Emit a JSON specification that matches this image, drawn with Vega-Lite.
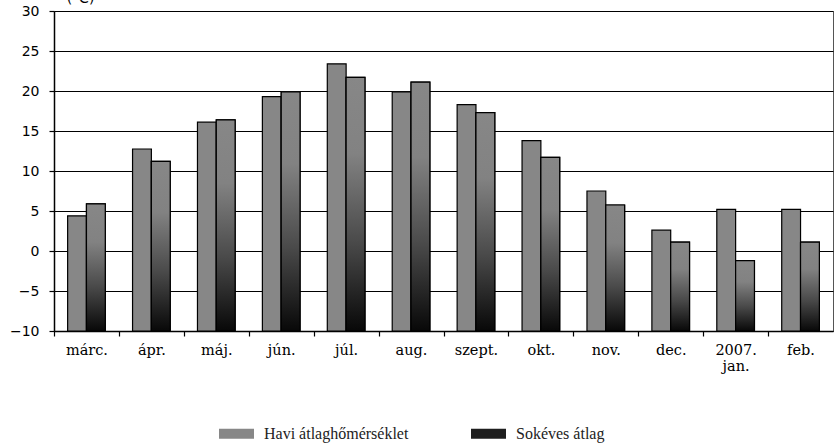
{
  "$schema": "https://vega.github.io/schema/vega-lite/v6.json",
  "autosize": {"type": "none"},
  "padding": {"left": 54, "top": 11, "right": 1, "bottom": 112},
  "width": 779,
  "height": 320,
  "background": "white",
  "config": {
    "view": {"stroke": "#555", "strokeWidth": 1},
    "axis": {"labelColor": "#000", "titleColor": "#000", "domainColor": "#000", "tickColor": "#000"}
  },
  "data": {
    "values": [
      {"m": "márc.", "s": "Havi átlaghőmérséklet", "v": 4.4},
      {"m": "márc.", "s": "Sokéves átlag", "v": 5.9},
      {"m": "ápr.", "s": "Havi átlaghőmérséklet", "v": 12.75},
      {"m": "ápr.", "s": "Sokéves átlag", "v": 11.2},
      {"m": "máj.", "s": "Havi átlaghőmérséklet", "v": 16.1},
      {"m": "máj.", "s": "Sokéves átlag", "v": 16.4},
      {"m": "jún.", "s": "Havi átlaghőmérséklet", "v": 19.3},
      {"m": "jún.", "s": "Sokéves átlag", "v": 19.9},
      {"m": "júl.", "s": "Havi átlaghőmérséklet", "v": 23.4},
      {"m": "júl.", "s": "Sokéves átlag", "v": 21.7},
      {"m": "aug.", "s": "Havi átlaghőmérséklet", "v": 19.9},
      {"m": "aug.", "s": "Sokéves átlag", "v": 21.1},
      {"m": "szept.", "s": "Havi átlaghőmérséklet", "v": 18.3},
      {"m": "szept.", "s": "Sokéves átlag", "v": 17.3},
      {"m": "okt.", "s": "Havi átlaghőmérséklet", "v": 13.8},
      {"m": "okt.", "s": "Sokéves átlag", "v": 11.7},
      {"m": "nov.", "s": "Havi átlaghőmérséklet", "v": 7.5},
      {"m": "nov.", "s": "Sokéves átlag", "v": 5.75},
      {"m": "dec.", "s": "Havi átlaghőmérséklet", "v": 2.6},
      {"m": "dec.", "s": "Sokéves átlag", "v": 1.1},
      {"m": "2007. jan.", "s": "Havi átlaghőmérséklet", "v": 5.2},
      {"m": "2007. jan.", "s": "Sokéves átlag", "v": -1.2},
      {"m": "feb.", "s": "Havi átlaghőmérséklet", "v": 5.2},
      {"m": "feb.", "s": "Sokéves átlag", "v": 1.1}
    ]
  },
  "encoding": {
    "x": {
      "field": "m", "type": "nominal", "sort": null,
      "scale": {"paddingInner": 0.42, "paddingOuter": 0.21},
      "axis": {
        "title": null, "labelAngle": 0, "grid": false,
        "labelFont": "DejaVu Serif", "labelFontSize": 14.5,
        "labelPadding": 7, "tickSize": 5, "tickOffset": -32.45, "labelOffset": 32.45,
        "domainWidth": 1.5, "tickWidth": 1.2,
        "labelExpr": "datum.value == '2007. jan.' ? ['2007.', 'jan.'] : datum.label"
      }
    },
    "xOffset": {"field": "s", "type": "nominal", "scale": {"domain": ["Havi átlaghőmérséklet", "Sokéves átlag"], "paddingInner": 0}},
    "y": {
      "field": "v", "type": "quantitative",
      "scale": {"domain": [-10, 30], "nice": false, "zero": false},
      "axis": {
        "title": "(°C)", "titleAngle": 0, "titleX": 26, "titleY": -13, "titleAlign": "center",
        "titleBaseline": "middle", "titleFont": "DejaVu Sans", "titleFontSize": 14, "titleFontWeight": "normal",
        "values": [-10, -5, 0, 5, 10, 15, 20, 25, 30],
        "labelFont": "DejaVu Sans", "labelFontSize": 14, "labelPadding": 10, "tickSize": 5,
        "gridColor": "#000", "gridWidth": 1.2, "gridOpacity": 1,
        "domainWidth": 1.5, "tickWidth": 1.2
      }
    },
    "y2": {"datum": -10}
  },
  "layer": [
    {
      "mark": {"type": "bar", "stroke": "#000", "strokeWidth": 1.2},
      "encoding": {
        "color": {
          "field": "s", "type": "nominal",
          "scale": {"domain": ["Havi átlaghőmérséklet", "Sokéves átlag"], "range": ["#878787", "#1e1e1e"]},
          "legend": {
            "title": null, "orient": "none", "direction": "horizontal",
            "legendX": 165, "legendY": 405,
            "symbolType": "M-1,-0.28H1V0.28H-1Z", "symbolSize": 1225, "symbolStrokeWidth": 0,
            "labelFont": "Liberation Serif", "labelFontSize": 16, "labelColor": "#222",
            "labelOffset": 10, "columnPadding": 62, "labelLimit": 400
          }
        }
      }
    },
    {
      "transform": [{"filter": "datum.s == 'Sokéves átlag'"}],
      "mark": {
        "type": "bar", "stroke": "#000", "strokeWidth": 1.2,
        "fill": {
          "gradient": "linear", "x1": 0, "y1": 0, "x2": 0, "y2": 1,
          "stops": [
            {"offset": 0, "color": "#878787"},
            {"offset": 0.3, "color": "#828282"},
            {"offset": 0.65, "color": "#4a4a4a"},
            {"offset": 1, "color": "#080808"}
          ]
        }
      }
    }
  ]
}
